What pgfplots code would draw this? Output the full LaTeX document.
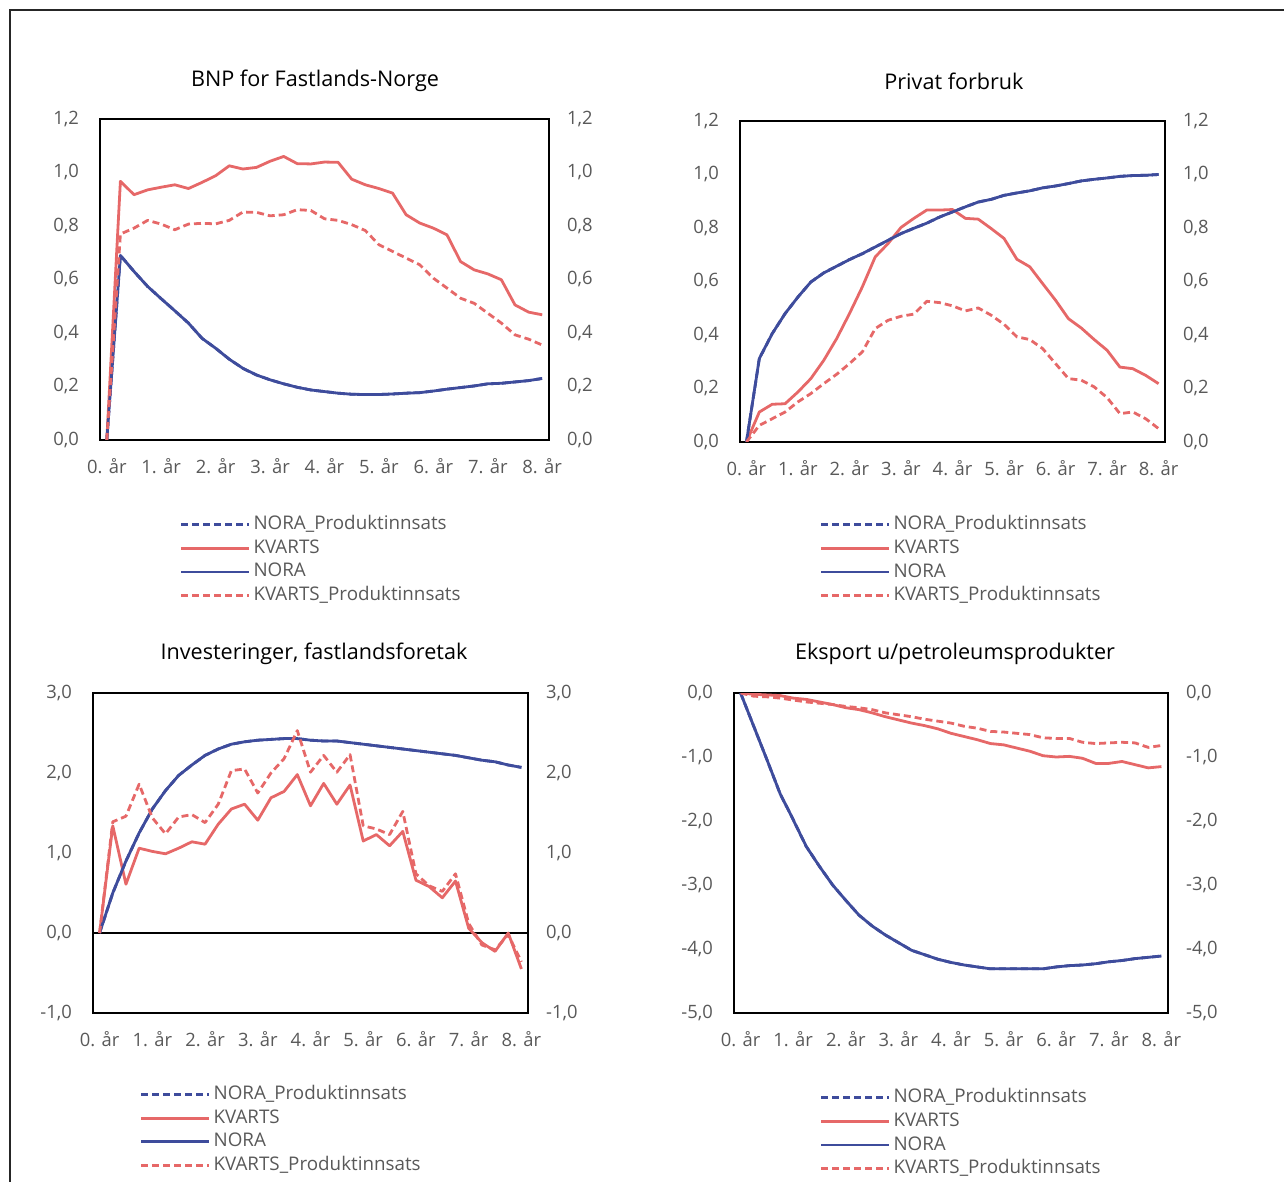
\documentclass[border=0pt]{standalone}
\usepackage{fontspec}
\setmainfont{Open Sans}
\usepackage{pgfplots}
\usepackage{pgfplotstable}
\pgfplotsset{compat=1.18}

\definecolor{noraBlue}{RGB}{62,76,156}
\definecolor{kvartsRed}{RGB}{230,104,104}
\definecolor{tickGrey}{RGB}{89,89,89}

% quarter, NORA_Produktinnsats, KVARTS, NORA, KVARTS_Produktinnsats
\pgfplotstableread{
q noraP kv nora kvP
0 0 0 0 0
1 0.69 0.967 0.69 0.77
2 0.63 0.917 0.63 0.792
3 0.574 0.935 0.574 0.821
4 0.528 0.945 0.528 0.807
5 0.483 0.954 0.483 0.786
6 0.437 0.94 0.437 0.807
7 0.38 0.963 0.38 0.81
8 0.343 0.988 0.343 0.808
9 0.302 1.025 0.302 0.821
10 0.268 1.013 0.268 0.852
11 0.243 1.019 0.243 0.851
12 0.225 1.042 0.225 0.838
13 0.21 1.06 0.21 0.842
14 0.197 1.033 0.197 0.861
15 0.187 1.032 0.187 0.858
16 0.181 1.039 0.181 0.827
17 0.175 1.038 0.175 0.821
18 0.171 0.975 0.171 0.805
19 0.17 0.954 0.17 0.783
20 0.17 0.94 0.17 0.73
21 0.172 0.923 0.172 0.705
22 0.175 0.842 0.175 0.68
23 0.177 0.811 0.177 0.655
24 0.183 0.792 0.183 0.605
25 0.19 0.767 0.19 0.568
26 0.196 0.667 0.196 0.53
27 0.202 0.636 0.202 0.511
28 0.21 0.621 0.21 0.474
29 0.212 0.599 0.212 0.437
30 0.217 0.505 0.217 0.393
31 0.222 0.478 0.222 0.377
32 0.23 0.468 0.23 0.355
}\bnp

\pgfplotstableread{
q noraP kv nora kvP
0 0 0 0 0
1 0.312 0.112 0.312 0.062
2 0.405 0.141 0.405 0.087
3 0.48 0.143 0.48 0.112
4 0.542 0.187 0.542 0.15
5 0.598 0.237 0.598 0.181
6 0.632 0.305 0.632 0.218
7 0.657 0.386 0.657 0.253
8 0.682 0.48 0.682 0.293
9 0.704 0.58 0.704 0.337
10 0.729 0.692 0.729 0.424
11 0.754 0.742 0.754 0.455
12 0.779 0.802 0.779 0.47
13 0.799 0.836 0.799 0.478
14 0.818 0.867 0.818 0.526
15 0.841 0.867 0.841 0.521
16 0.86 0.869 0.86 0.509
17 0.879 0.836 0.879 0.49
18 0.897 0.833 0.897 0.501
19 0.907 0.798 0.907 0.474
20 0.922 0.761 0.922 0.44
21 0.931 0.683 0.931 0.393
22 0.939 0.655 0.939 0.383
23 0.95 0.592 0.95 0.349
24 0.957 0.53 0.957 0.293
25 0.966 0.461 0.966 0.237
26 0.976 0.426 0.976 0.231
27 0.982 0.383 0.982 0.206
28 0.987 0.343 0.987 0.166
29 0.993 0.28 0.993 0.106
30 0.996 0.274 0.996 0.112
31 0.997 0.249 0.997 0.087
32 1.0 0.218 1.0 0.05
}\forbruk

\pgfplotstableread{
q noraP kv nora kvP
0 0 0 0 0
1 0.5 1.34 0.5 1.39
2 0.9 0.61 0.9 1.46
3 1.25 1.06 1.25 1.86
4 1.55 1.02 1.55 1.44
5 1.78 0.99 1.78 1.24
6 1.97 1.06 1.97 1.45
7 2.1 1.14 2.1 1.48
8 2.22 1.11 2.22 1.38
9 2.3 1.36 2.3 1.61
10 2.36 1.55 2.36 2.03
11 2.39 1.61 2.39 2.05
12 2.41 1.41 2.41 1.75
13 2.42 1.69 2.42 2.0
14 2.43 1.77 2.43 2.18
15 2.43 1.98 2.43 2.53
16 2.41 1.59 2.41 2.01
17 2.4 1.87 2.4 2.22
18 2.4 1.61 2.4 2.01
19 2.38 1.85 2.38 2.23
20 2.36 1.15 2.36 1.34
21 2.34 1.23 2.34 1.3
22 2.32 1.09 2.32 1.23
23 2.3 1.27 2.3 1.52
24 2.28 0.66 2.28 0.74
25 2.26 0.58 2.26 0.59
26 2.24 0.44 2.24 0.52
27 2.22 0.65 2.22 0.74
28 2.19 0.06 2.19 0.12
29 2.16 -0.12 2.16 -0.15
30 2.14 -0.23 2.14 -0.21
31 2.1 0.0 2.1 -0.02
32 2.07 -0.45 2.07 -0.36
}\invest

\pgfplotstableread{
q noraP kv nora kvP
0 0 0 0 0
1 -0.52 -0.02 -0.52 -0.05
2 -1.04 -0.03 -1.04 -0.06
3 -1.57 -0.04 -1.57 -0.08
4 -1.98 -0.08 -1.98 -0.11
5 -2.4 -0.1 -2.4 -0.14
6 -2.71 -0.14 -2.71 -0.16
7 -3.0 -0.18 -3.0 -0.18
8 -3.24 -0.23 -3.24 -0.21
9 -3.47 -0.26 -3.47 -0.23
10 -3.64 -0.31 -3.64 -0.26
11 -3.78 -0.37 -3.78 -0.31
12 -3.9 -0.42 -3.9 -0.34
13 -4.02 -0.47 -4.02 -0.37
14 -4.09 -0.51 -4.09 -0.41
15 -4.16 -0.56 -4.16 -0.44
16 -4.21 -0.63 -4.21 -0.47
17 -4.25 -0.68 -4.25 -0.52
18 -4.28 -0.73 -4.28 -0.55
19 -4.31 -0.79 -4.31 -0.6
20 -4.31 -0.81 -4.31 -0.61
21 -4.31 -0.86 -4.31 -0.63
22 -4.31 -0.91 -4.31 -0.65
23 -4.31 -0.98 -4.31 -0.7
24 -4.28 -1.0 -4.28 -0.71
25 -4.26 -0.99 -4.26 -0.71
26 -4.25 -1.02 -4.25 -0.77
27 -4.23 -1.1 -4.23 -0.79
28 -4.2 -1.1 -4.2 -0.78
29 -4.18 -1.07 -4.18 -0.77
30 -4.15 -1.12 -4.15 -0.78
31 -4.13 -1.17 -4.13 -0.85
32 -4.11 -1.15 -4.11 -0.82
}\eksport

\pgfplotsset{
  legend image code/.code={\draw[#1] (0pt,0pt) -- (34pt,0pt);},
  numfmt/.style={
    /pgf/number format/use comma,
    /pgf/number format/fixed,
    /pgf/number format/fixed zerofill,
    /pgf/number format/precision=1,
    /pgf/number format/assume math mode=true,
  },
  panel/.style={
    scale only axis, anchor=south west,
    xmin=-0.5, xmax=32.5,
    xtick={0,4,8,12,16,20,24,28,32},
    xticklabels={0. år,1. år,2. år,3. år,4. år,5. år,6. år,7. år,8. år},
    major tick length=0pt,
    axis line style={black, line width=0.7pt},
    tick label style={font=\fontsize{9.2}{11}\selectfont, text=tickGrey},
    xticklabel style={yshift=-5.5pt},
    yticklabel style={xshift=-7pt},
    numfmt,
    legend cell align=left,
    legend style={draw=none, fill=none, inner sep=0pt, outer sep=0pt,
      anchor=north west, yshift=-1.5pt,
      font=\fontsize{9.4}{11}\selectfont, text=tickGrey,
      row sep=0pt,
      nodes={inner sep=1.4pt, text height=7pt, text depth=2pt},
      /tikz/every even column/.append style={column sep=1.6pt}},
  },
  rightlabels/.style={
    scale only axis, anchor=south west,
    xmin=-0.5, xmax=32.5,
    hide x axis, axis y line*=right,
    y axis line style={draw=none},
    major tick length=0pt,
    tick label style={font=\fontsize{9.2}{11}\selectfont, text=tickGrey},
    yticklabel style={xshift=5.5pt},
    numfmt,
  },
  noraP/.style={noraBlue, line width=1.4pt, line join=round, dash pattern=on 3.5pt off 2pt},
  kv/.style={kvartsRed, line width=1.4pt, line join=round},
  nora/.style={noraBlue, line width=1.4pt, line join=round},
  kvP/.style={kvartsRed, line width=1.4pt, line join=round, dash pattern=on 3.5pt off 2pt},
}

\newcommand{\fourseries}[1]{%
  \addplot[noraP] table[x=q, y=noraP] {#1};
  \addlegendentry{NORA\_Produktinnsats}
  \addplot[kv] table[x=q, y=kv] {#1};
  \addlegendentry{KVARTS}
  \addplot[nora] table[x=q, y=nora] {#1};
  \addlegendentry{NORA}
  \addplot[kvP] table[x=q, y=kvP] {#1};
  \addlegendentry{KVARTS\_Produktinnsats}
}

\begin{document}
\begin{tikzpicture}
\useasboundingbox (0,0) rectangle (642pt,591pt);
\draw[line width=1pt, black!85] (4.75pt,0pt) -- (4.75pt,586pt) -- (642pt,586pt);

\tikzset{ttl/.style={font=\fontsize{10.8}{13}\selectfont, text=black}}
\node[ttl] at (157.5pt,550.5pt) {BNP for Fastlands-Norge};
\node[ttl] at (477pt,550.5pt) {Privat forbruk};
\node[ttl] at (157pt,264pt) {Investeringer, fastlandsforetak};
\node[ttl] at (477.5pt,264pt) {Eksport u/petroleumsprodukter};

% BNP for Fastlands-Norge
\begin{axis}[panel, at={(50pt,371pt)}, width=224.5pt, height=160.5pt,
  ymin=0, ymax=1.2, ytick={0,0.2,0.4,0.6,0.8,1.0,1.2},
  legend style={at={(0.178,-0.218)}}]
  \fourseries{\bnp}
\end{axis}
\begin{axis}[rightlabels, at={(50pt,371pt)}, width=224.5pt, height=160.5pt,
  ymin=0, ymax=1.2, ytick={0,0.2,0.4,0.6,0.8,1.0,1.2}]
\end{axis}

% Privat forbruk
\begin{axis}[panel, at={(370pt,370pt)}, width=212.5pt, height=160.5pt,
  ymin=0, ymax=1.2, ytick={0,0.2,0.4,0.6,0.8,1.0,1.2},
  legend style={at={(0.188,-0.212)}}]
  \fourseries{\forbruk}
\end{axis}
\begin{axis}[rightlabels, at={(370pt,370pt)}, width=212.5pt, height=160.5pt,
  ymin=0, ymax=1.2, ytick={0,0.2,0.4,0.6,0.8,1.0,1.2}]
\end{axis}

% Investeringer, fastlandsforetak
\begin{axis}[panel, at={(46.5pt,84.5pt)}, width=217.5pt, height=160pt,
  ymin=-1, ymax=3, ytick={-1,0,1,2,3},
  extra y ticks={0}, extra y tick labels={},
  extra y tick style={grid=major, major grid style={black, line width=0.6pt}},
  legend style={at={(0.108,-0.209)}}]
  \fourseries{\invest}
\end{axis}
\begin{axis}[rightlabels, at={(46.5pt,84.5pt)}, width=217.5pt, height=160pt,
  ymin=-1, ymax=3, ytick={-1,0,1,2,3}]
\end{axis}

% Eksport u/petroleumsprodukter
\begin{axis}[panel, at={(367pt,84.5pt)}, width=217pt, height=160pt,
  ymin=-5, ymax=0, ytick={-5,-4,-3,-2,-1,0},
  legend style={at={(0.198,-0.219)}}]
  \fourseries{\eksport}
\end{axis}
\begin{axis}[rightlabels, at={(367pt,84.5pt)}, width=217pt, height=160pt,
  ymin=-5, ymax=0, ytick={-5,-4,-3,-2,-1,0}]
\end{axis}
\end{tikzpicture}
\end{document}
